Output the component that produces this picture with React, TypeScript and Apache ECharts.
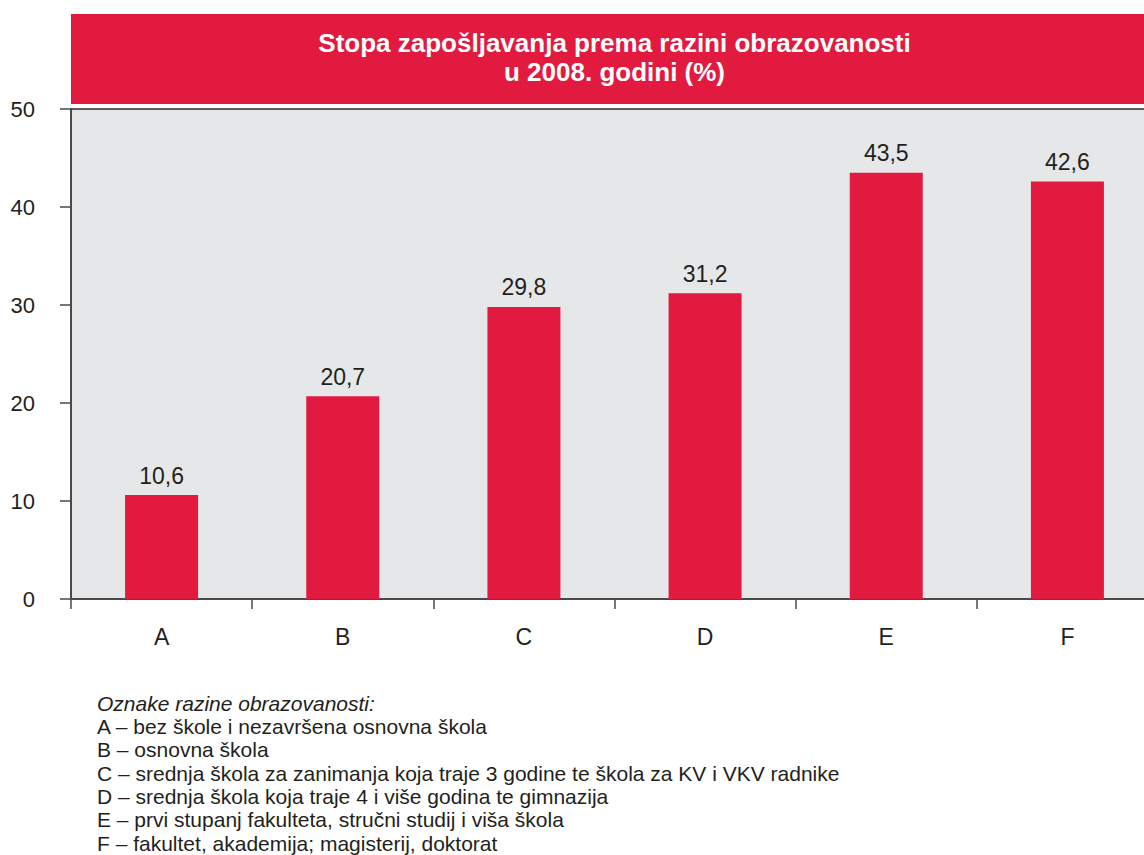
import React, { useEffect, useRef } from "react";
import * as echarts from "echarts";

const categories = ["A", "B", "C", "D", "E", "F"];
const values = [10.6, 20.7, 29.8, 31.2, 43.5, 42.6];
const yTicks = [0, 10, 20, 30, 40, 50];
const titleLines = ["Stopa zapošljavanja prema razini obrazovanosti", "u 2008. godini (%)"];
const legendHeading = "Oznake razine obrazovanosti:";
const legendLines = [
  "A – bez škole i nezavršena osnovna škola",
  "B – osnovna škola",
  "C – srednja škola za zanimanja koja traje 3 godine te škola za KV i VKV radnike",
  "D – srednja škola koja traje 4 i više godina te gimnazija",
  "E – prvi stupanj fakulteta, stručni studij i viša škola",
  "F – fakultet, akademija; magisterij, doktorat",
];

const RED = "#e31a3f";
const TXT = "#231f20";
const AX = "#4a4a4c";
const FONT = "'Liberation Sans', Arial, sans-serif";

export default function App() {
  const ref = useRef<HTMLDivElement>(null);
  useEffect(() => {
    const chart = echarts.init(ref.current!, null, { renderer: "svg" });
    const graphics: any[] = [
      { type: "rect", shape: { x: 71, y: 14, width: 1087, height: 90 }, style: { fill: RED }, silent: true },
      ...titleLines.map((t, i) => ({
        type: "text",
        x: 614.5,
        y: 42.5 + i * 29.5,
        style: { text: t, fill: "#fff", font: `bold 26px ${FONT}`, textAlign: "center", textVerticalAlign: "middle" },
      })),
      {
        type: "text",
        x: 97,
        y: 703,
        style: { text: legendHeading, fill: TXT, font: `italic 21px ${FONT}`, textAlign: "left", textVerticalAlign: "middle" },
      },
      ...legendLines.map((t, i) => ({
        type: "text",
        x: 97,
        y: 726.5 + i * 23.3,
        style: { text: t, fill: TXT, font: `21px ${FONT}`, textAlign: "left", textVerticalAlign: "middle" },
      })),
    ];
    chart.setOption({
      animation: false,
      textStyle: { fontFamily: FONT },
      grid: {
        left: 71,
        top: 109,
        right: 2,
        bottom: 256,
        show: true,
        backgroundColor: "#e6e7e9",
        borderColor: "#2b2b2b",
        borderWidth: 1.5,
      },
      xAxis: {
        type: "category",
        data: categories,
        axisLine: { lineStyle: { color: AX, width: 2 } },
        axisTick: { show: true, length: 10, lineStyle: { color: AX, width: 1.5 } },
        axisLabel: { color: TXT, fontSize: 23, margin: 26, fontFamily: FONT },
      },
      yAxis: {
        type: "value",
        min: yTicks[0],
        max: yTicks[yTicks.length - 1],
        interval: 10,
        axisLine: { show: true, lineStyle: { color: AX, width: 2 } },
        axisTick: { show: true, length: 11, lineStyle: { color: AX, width: 1.5 } },
        splitLine: { show: false },
        axisLabel: { color: TXT, fontSize: 22, margin: 36, fontFamily: FONT },
      },
      series: [
        {
          type: "bar",
          data: values,
          barWidth: 73,
          itemStyle: { color: RED },
          label: {
            show: true,
            position: "top",
            distance: 8,
            color: TXT,
            fontSize: 23,
            fontFamily: FONT,
            formatter: (p: any) => String(p.value).replace(".", ","),
          },
        },
      ],
      graphic: graphics,
    });
    return () => chart.dispose();
  }, []);
  return (
    <div style={{ position: "fixed", left: 0, top: 0, width: 1144, height: 855, overflow: "hidden", background: "#fff" }}>
      <div ref={ref} style={{ width: 1160, height: 855 }} />
    </div>
  );
}
